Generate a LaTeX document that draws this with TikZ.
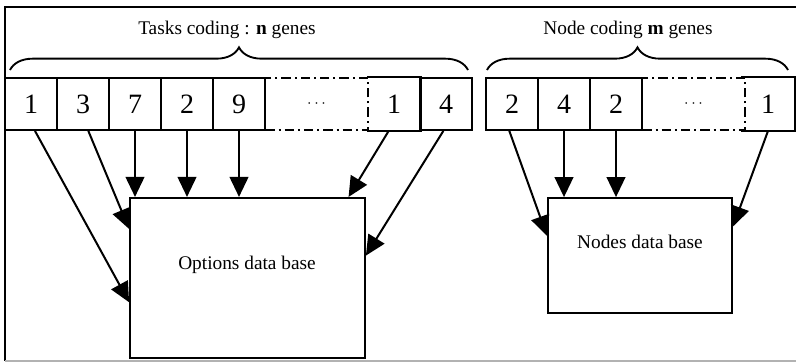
\documentclass[tikz,border=0pt]{standalone}
\usepackage{fontspec}
\setmainfont{Liberation Serif}
\usetikzlibrary{arrows.meta,decorations.pathreplacing}

\tikzset{
  gene/.style={draw,line width=1.4pt,minimum width=39pt,minimum height=39pt,
    inner sep=0pt,font=\fontsize{21}{25}\selectfont},
  open/.style={gene,draw=none},
  gap/.style={draw,line width=1.4pt,dash pattern=on 7pt off 3pt on 1.5pt off 3pt,
    minimum width=77pt,minimum height=39pt,inner sep=0pt,font=\large},
  base/.style={draw,line width=1.6pt,inner sep=0pt},
  lbl/.style={font=\fontsize{14.5}{17}\selectfont},
  link/.style={line width=1.5pt,-{Triangle[length=15pt,width=14pt]}},
  curly/.style={line width=1.4pt,decorate,decoration={brace,amplitude=17pt}}
}

\begin{document}
\begin{tikzpicture}[x=0.75pt,y=-0.75pt]
    \useasboundingbox (0,0) rectangle (796,362);
    % frame
    \draw[line width=1.4pt] (796,7) -- (5,7) -- (5,361);
    \draw[gray!60,line width=0.9pt] (5,361) -- (796,361);

    % task genes
    \foreach \x/\v/\n in {31/1/t1, 83/3/t2, 135/7/t3, 187/2/t4, 239/9/t5, 446/4/t7}
        \node[gene] (\n) at (\x,104) {\v};
    \node[gap] (tdots) at (316.5,104) {$\cdots$};
    \node[open] (t6) at (394,104) {1};
    \draw[line width=1.4pt] (t6.north west) -- (t6.north east) -- (t6.south east) -- (t6.south west);

    % node genes
    \foreach \x/\v/\n in {512/2/n1, 564/4/n2, 616/2/n3}
        \node[gene] (\n) at (\x,104) {\v};
    \node[gap] (ndots) at (693.5,104) {$\cdots$};
    \node[open] (n4) at (768,104) {1};
    \draw[line width=1.4pt] (n4.north west) -- (n4.north east) -- (n4.south east) -- (n4.south west);

    % braces and titles
    \draw[curly] (10,70) -- (468,70);
    \node[lbl] (ttitle) at (227,30) {Tasks coding : \textbf{n} genes};
    \draw[curly] (487,70) -- (788,70);
    \node[lbl] (ntitle) at (628,30) {Node coding \textbf{m} genes};

    % data bases
    \node[base,minimum width=176pt,minimum height=120pt] (opt) at (247.5,278) {};
    \node[lbl] (optlbl) at (247,265) {Options data base};
    \node[base,minimum width=138pt,minimum height=86pt] (nod) at (640,255.5) {};
    \node[lbl] (nodlbl) at (640,242) {Nodes data base};

    % task links
    \draw[link] ([xshift=3pt]t1.south) -- ([yshift=-79pt]opt.north west);
    \draw[link] ([xshift=4pt]t2.south) -- ([yshift=-24pt]opt.north west);
    \draw[link] (t3.south) -- (t3.south |- opt.north);
    \draw[link] (t4.south) -- (t4.south |- opt.north);
    \draw[link] (t5.south) -- (t5.south |- opt.north);
    \draw[link] ([xshift=-4pt]t6.south) -- ([xshift=-13pt]opt.north east);
    \draw[link] ([xshift=-2pt]t7.south) -- ([yshift=-44pt]opt.north east);

    % node links
    \draw[link] ([xshift=-2pt]n1.south) -- ([yshift=-29pt]nod.north west);
    \draw[link] (n2.south) -- (n2.south |- nod.north);
    \draw[link] (n3.south) -- (n3.south |- nod.north);
    \draw[link] (n4.south) -- ([yshift=-22pt]nod.north east);
\end{tikzpicture}
\end{document}
